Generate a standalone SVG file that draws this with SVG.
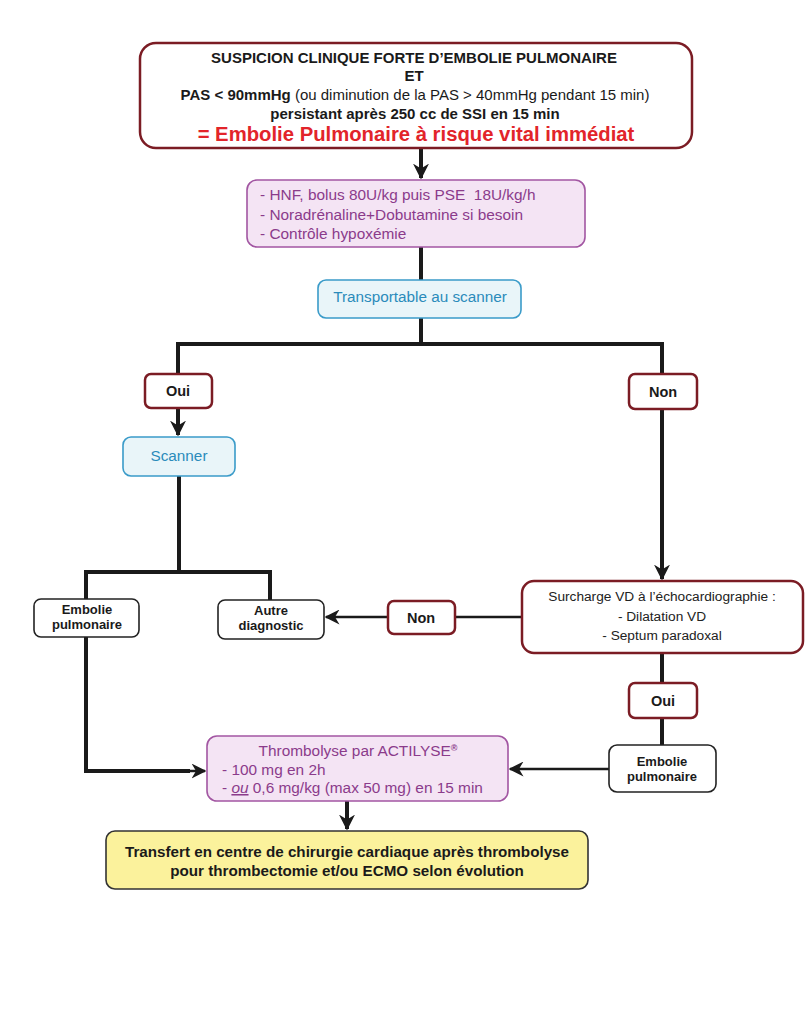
<svg xmlns="http://www.w3.org/2000/svg" width="806" height="1017" viewBox="0 0 806 1017">
<style>
text{font-family:"Liberation Sans",Arial,sans-serif;}
.red{fill:#fff;stroke:#7b1c24;stroke-width:2.5}
.blk{fill:#fff;stroke:#222;stroke-width:1.6}
.pink{fill:#f4e4f4;stroke:#a256a2;stroke-width:1.6}
.blue{fill:#e9f5f9;stroke:#3a9bc9;stroke-width:1.6}
.yel{fill:#fbf29c;stroke:#333;stroke-width:1.6}
.b{font-weight:bold;fill:#1a1a1a}
.pt{fill:#8b3b8b;font-size:15.4px}
.bt{fill:#2b8bbb;font-size:15.3px}
.yn{font-weight:bold;fill:#1a1a1a;font-size:14.5px}
.ep{font-weight:bold;fill:#1a1a1a;font-size:13px}
.st{fill:#222;font-size:13.7px}
.ln{fill:none;stroke:#1a1a1a;stroke-width:4}
.ln2{fill:none;stroke:#1a1a1a;stroke-width:2.5}
</style>
<defs>
<marker id="ah" viewBox="0 0 10 10" refX="9" refY="5" markerWidth="4" markerHeight="4" orient="auto" markerUnits="strokeWidth">
<path d="M0,0 L10,5 L0,10 L3,5 z" fill="#1a1a1a"/>
</marker>
<marker id="ah2" viewBox="0 0 10 10" refX="9" refY="5" markerWidth="6" markerHeight="6" orient="auto" markerUnits="strokeWidth">
<path d="M0,0 L10,5 L0,10 L3,5 z" fill="#1a1a1a"/>
</marker>
</defs>
<rect width="806" height="1017" fill="#fff"/>
<g id="connectors">
<path class="ln" d="M421,148 V178" marker-end="url(#ah)"/>
<path class="ln" d="M421,247 V280"/>
<path class="ln" d="M421,318 V344 M178,374 V344 H662 V374"/>
<path class="ln" d="M178,408 V435" marker-end="url(#ah)"/>
<path class="ln" d="M179,476 V572 M86,599 V572 H270 V600"/>
<path class="ln" d="M662,409 V579" marker-end="url(#ah)"/>
<path class="ln2" d="M522,617 H455"/>
<path class="ln2" d="M388,617 H326" marker-end="url(#ah2)"/>
<path class="ln" d="M662,653 V683 M662,718 V745"/>
<path class="ln2" d="M609,769 H510" marker-end="url(#ah2)"/>
<path class="ln" d="M86,637 V771 H190"/>
<path class="ln2" d="M188,771 H205" marker-end="url(#ah2)"/>
<path class="ln" d="M347,801 V829" marker-end="url(#ah)"/>
</g>
<g id="top">
<rect class="red" x="140" y="43" width="552" height="105" rx="16"/>
<text x="414" y="63" text-anchor="middle" class="b" font-size="15">SUSPICION CLINIQUE FORTE D’EMBOLIE PULMONAIRE</text>
<text x="414" y="81" text-anchor="middle" class="b" font-size="15">ET</text>
<text x="415" y="100" text-anchor="middle" font-size="15" fill="#1a1a1a"><tspan font-weight="bold">PAS &lt; 90mmHg</tspan> (ou diminution de la PAS &gt; 40mmHg pendant 15 min)</text>
<text x="415" y="119" text-anchor="middle" class="b" font-size="15">persistant après 250 cc de SSI en 15 min</text>
<text x="416" y="141" text-anchor="middle" font-size="20.3" font-weight="bold" fill="#e2242a">= Embolie Pulmonaire à risque vital immédiat</text>
</g>
<g id="treat">
<rect class="pink" x="247" y="180" width="338" height="67" rx="10"/>
<text x="260" y="200" class="pt">- HNF, bolus 80U/kg puis PSE &#160;18U/kg/h</text>
<text x="260" y="220" class="pt">- Noradrénaline+Dobutamine si besoin</text>
<text x="260" y="239" class="pt">- Contrôle hypoxémie</text>
</g>
<g id="transport">
<rect class="blue" x="318" y="280" width="203" height="38" rx="8"/>
<text x="420" y="302" text-anchor="middle" class="bt">Transportable au scanner</text>
</g>
<g id="oui1">
<rect class="red" x="145" y="374" width="67" height="34" rx="6"/>
<text x="178" y="396" text-anchor="middle" class="yn">Oui</text>
</g>
<g id="non1">
<rect class="red" x="629" y="374" width="68" height="35" rx="6"/>
<text x="663" y="397" text-anchor="middle" class="yn">Non</text>
</g>
<g id="scanner">
<rect class="blue" x="123" y="437" width="112" height="39" rx="8"/>
<text x="179" y="461" text-anchor="middle" class="bt">Scanner</text>
</g>
<g id="ep1">
<rect class="blk" x="34" y="599" width="105" height="38" rx="7"/>
<text x="87" y="614" text-anchor="middle" class="ep">Embolie</text>
<text x="87" y="629" text-anchor="middle" class="ep">pulmonaire</text>
</g>
<g id="autre">
<rect class="blk" x="218" y="600" width="106" height="39" rx="7"/>
<text x="271" y="615" text-anchor="middle" class="ep">Autre</text>
<text x="271" y="630" text-anchor="middle" class="ep">diagnostic</text>
</g>
<g id="non2">
<rect class="red" x="388" y="601" width="67" height="33" rx="6"/>
<text x="421" y="623" text-anchor="middle" class="yn">Non</text>
</g>
<g id="echo">
<rect class="red" x="522" y="581" width="281" height="72" rx="12"/>
<text x="662" y="601" text-anchor="middle" class="st">Surcharge VD à l’échocardiographie :</text>
<text x="662" y="621" text-anchor="middle" class="st">- Dilatation VD</text>
<text x="662" y="640" text-anchor="middle" class="st">- Septum paradoxal</text>
</g>
<g id="oui2">
<rect class="red" x="629" y="683" width="68" height="35" rx="6"/>
<text x="663" y="706" text-anchor="middle" class="yn">Oui</text>
</g>
<g id="ep2">
<rect class="blk" x="609" y="745" width="107" height="47" rx="8"/>
<text x="662" y="766" text-anchor="middle" class="ep">Embolie</text>
<text x="662" y="781" text-anchor="middle" class="ep">pulmonaire</text>
</g>
<g id="thrombo">
<rect class="pink" x="207" y="736" width="301" height="65" rx="10"/>
<text x="358" y="756" text-anchor="middle" class="pt">Thrombolyse par ACTILYSE<tspan font-size="9" font-weight="bold" dy="-5">®</tspan></text>
<text x="222" y="775" class="pt">- 100 mg en 2h</text>
<text x="222" y="793" class="pt">- <tspan font-style="italic" text-decoration="underline">ou</tspan> 0,6 mg/kg (max 50 mg) en 15 min</text>
</g>
<g id="transfert">
<rect class="yel" x="106" y="831" width="482" height="58" rx="9"/>
<text x="347" y="857" text-anchor="middle" class="b" font-size="15.2">Transfert en centre de chirurgie cardiaque après thrombolyse</text>
<text x="347" y="876" text-anchor="middle" class="b" font-size="15.2">pour thrombectomie et/ou ECMO selon évolution</text>
</g>
</svg>
